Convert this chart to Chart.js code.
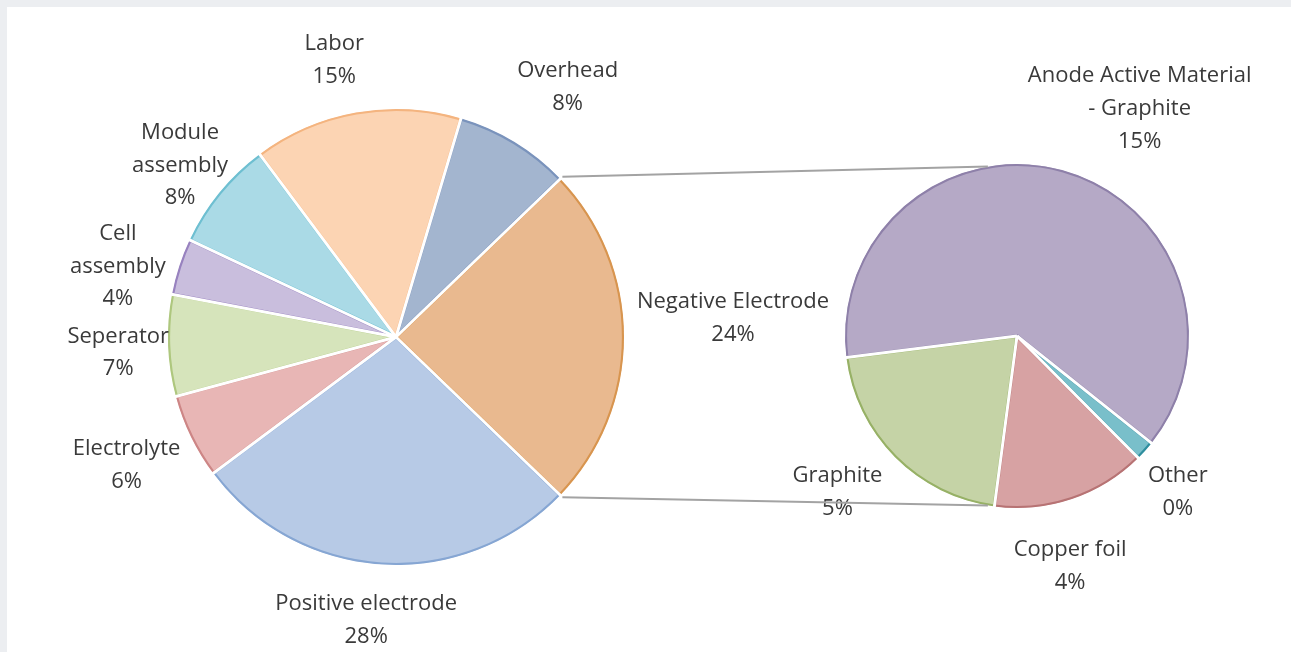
<!DOCTYPE html>
<html><head><meta charset="utf-8">
<script src="https://cdn.jsdelivr.net/npm/chart.js@4.4.1/dist/chart.umd.min.js"></script>
<style>
html,body{margin:0;padding:0;background:#eceef1;}
#wrap{position:relative;width:1291px;height:652px;overflow:hidden;}
#panel{position:absolute;left:7px;top:7px;right:0;bottom:0;background:#ffffff;}
canvas{position:absolute;left:0;top:0;}
</style></head><body>
<div id="wrap"><div id="panel"></div>
<canvas id="main" width="1291" height="652"></canvas>
<canvas id="sub" width="1291" height="652"></canvas>
</div>
<script>
// ---- data ----
const mainCategories = ['Negative Electrode', 'Positive electrode', 'Electrolyte', 'Seperator', 'Cell\nassembly', 'Module\nassembly', 'Labor', 'Overhead'];
const mainValues = [24.4, 27.6, 6.0, 7.2, 4.0, 7.8, 14.8, 8.2];
const subCategories = ['Anode Active Material\n- Graphite', 'Other', 'Copper foil', 'Graphite'];
const subValues = [15.3, 0.45, 3.55, 5.1];

const mainFill = ['#E9B98F', '#B7CAE6', '#E8B6B5', '#D6E4BB', '#C9BEDD', '#AADAE6', '#FCD4B3', '#A3B5CF'];
const mainEdge = ['#D8954F', '#86A6D3', '#CD8686', '#AEC77E', '#9882BF', '#6EBFD1', '#F4B47F', '#7A93BC'];
const subFill = ['#B5A9C6', '#79BFCA', '#D7A2A3', '#C5D3A6'];
const subEdge = ['#8E80A9', '#2F8E9E', '#B77374', '#97B166'];

const grandTotal = mainValues.reduce((a, b) => a + b, 0);
const FONT = '22px "Open Sans", "DejaVu Sans", sans-serif';
const TEXT = '#3a3a3a';

const pieDecor = {
  id: 'pieDecor',
  afterDatasetsDraw(chart, args, opts) {
    const ctx = chart.ctx;
    const meta = chart.getDatasetMeta(0);
    ctx.save();
    ctx.strokeStyle = '#ffffff';
    ctx.lineWidth = opts.gapWidth;
    meta.data.forEach(arc => {
      const p = arc.getProps(['x', 'y', 'startAngle', 'outerRadius'], true);
      ctx.beginPath();
      ctx.moveTo(p.x, p.y);
      ctx.lineTo(p.x + (p.outerRadius + 2) * Math.cos(p.startAngle), p.y + (p.outerRadius + 2) * Math.sin(p.startAngle));
      ctx.stroke();
    });
    ctx.font = FONT;
    ctx.fillStyle = TEXT;
    ctx.textAlign = 'center';
    ctx.textBaseline = 'middle';
    const labels = chart.data.labels;
    const vals = chart.data.datasets[0].data;
    meta.data.forEach((arc, i) => {
      const p = arc.getProps(['x', 'y', 'startAngle', 'endAngle', 'outerRadius'], true);
      const mid = (p.startAngle + p.endAngle) / 2;
      const d = p.outerRadius + opts.labelGap;
      const nud = opts.nudge[i] || [0, 0];
      const cx = p.x + d * Math.cos(mid) + nud[0];
      const cy = p.y + d * Math.sin(mid) + nud[1];
      const lines = labels[i].split('\n');
      lines.push(Math.round(vals[i] / grandTotal * 100) + '%');
      const lh = opts.lineHeight;
      const top = cy - (lines.length - 1) * lh / 2;
      lines.forEach((t, k) => ctx.fillText(t, cx, top + k * lh));
    });
    ctx.restore();
  }
};

const connectors = {
  id: 'connectors',
  afterDraw(chart, args, opts) {
    const main = window.mainChart;
    if (!main) return;
    const a = main.getDatasetMeta(0).data[0].getProps(['x', 'y', 'startAngle', 'endAngle', 'outerRadius'], true);
    const s = chart.getDatasetMeta(0).data[0].getProps(['x', 'y', 'outerRadius'], true);
    const ctx = chart.ctx;
    ctx.save();
    ctx.strokeStyle = '#A3A3A3';
    ctx.lineWidth = 1.8;
    const r0 = a.outerRadius + 3;
    const tA = -Math.PI / 2 - opts.skew, bA = Math.PI / 2 + opts.skew;
    ctx.beginPath();
    ctx.moveTo(a.x + r0 * Math.cos(a.startAngle), a.y + r0 * Math.sin(a.startAngle));
    ctx.lineTo(s.x + s.outerRadius * Math.cos(tA), s.y + s.outerRadius * Math.sin(tA));
    ctx.moveTo(a.x + r0 * Math.cos(a.endAngle), a.y + r0 * Math.sin(a.endAngle));
    ctx.lineTo(s.x + s.outerRadius * Math.cos(bA), s.y + s.outerRadius * Math.sin(bA));
    ctx.stroke();
    ctx.restore();
  }
};

const mainRotation = 90 - (mainValues[0] / grandTotal * 360) / 2;

window.mainChart = new Chart(document.getElementById('main'), {
  type: 'pie',
  data: {
    labels: mainCategories,
    datasets: [{ data: mainValues, backgroundColor: mainFill, borderColor: mainEdge, borderWidth: 1.8, borderAlign: 'inner' }]
  },
  options: {
    responsive: false, animation: false, events: [],
    rotation: mainRotation,
    radius: 228,
    layout: { padding: { left: 156, top: 97, right: 655, bottom: 75 } },
    plugins: {
      legend: { display: false }, tooltip: { enabled: false },
      pieDecor: { gapWidth: 3, labelGap: 56, lineHeight: 32.5,
        nudge: [[53, -19], [-12, 0], [-14, 4], [6, 5], [-8, 17], [4, 8], [-12, 3], [24, -7]] }
    }
  },
  plugins: [pieDecor]
});

new Chart(document.getElementById('sub'), {
  type: 'pie',
  data: {
    labels: subCategories,
    datasets: [{ data: subValues, backgroundColor: subFill, borderColor: subEdge, borderWidth: 1.8, borderAlign: 'inner' }]
  },
  options: {
    responsive: false, animation: false, events: [],
    rotation: 262.8,
    radius: 172,
    layout: { padding: { left: 817, top: 136, right: 74, bottom: 116 } },
    plugins: {
      legend: { display: false }, tooltip: { enabled: false },
      pieDecor: { gapWidth: 3, labelGap: 60, lineHeight: 33,
        nudge: [[60, -4], [-12, 1], [-21, 10], [-15, -7]] },
      connectors: { skew: 0.17 }
    }
  },
  plugins: [pieDecor, connectors]
});
</script>
</body></html>
